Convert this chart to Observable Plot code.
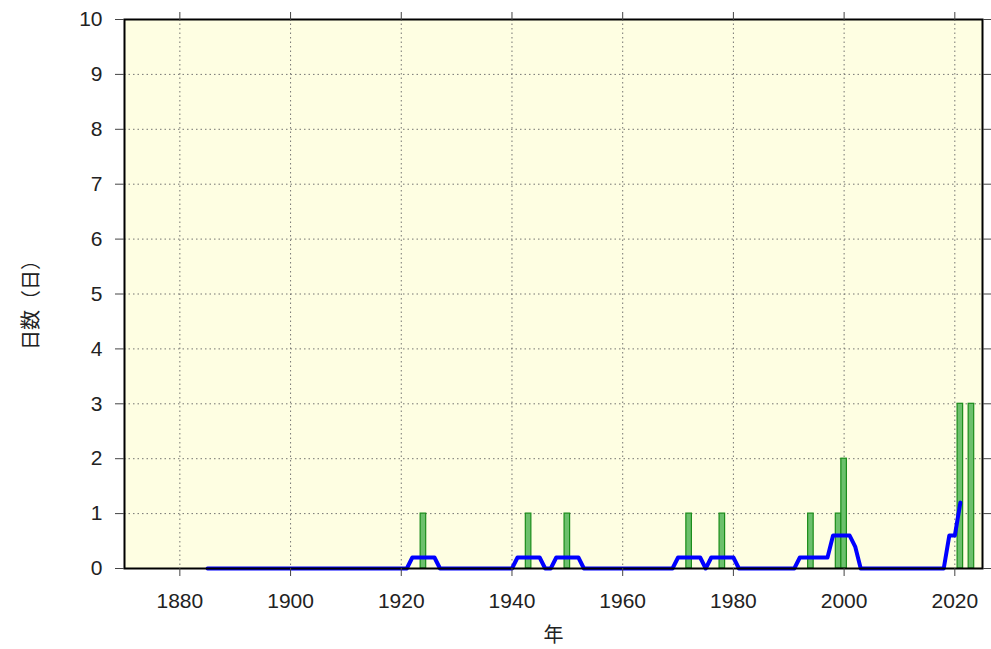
<!DOCTYPE html>
<html>
<head>
<meta charset="utf-8">
<script src="https://cdn.jsdelivr.net/npm/d3@7"></script>
<script src="https://cdn.jsdelivr.net/npm/@observablehq/plot@0.6"></script>
<style>
  html, body { margin: 0; padding: 0; background: #ffffff; }
  #chart svg { display: block; }
</style>
</head>
<body>
<div id="chart"></div>
<script>
// Yearly counts (only non-zero years are drawn as bars; record runs 1883–2023)
const barYears = [1924, 1943, 1950, 1972, 1978, 1994, 1999, 2000, 2021, 2023];
const barDays  = [1, 1, 1, 1, 1, 1, 1, 2, 3, 3];

// 5-year running mean, vertices
const meanYears  = [1885, 1921, 1922, 1926, 1927, 1940, 1941, 1945, 1946, 1947, 1948, 1952, 1953, 1969, 1970, 1974, 1975, 1976, 1980, 1981, 1991, 1992, 1997, 1998, 2001, 2002, 2003, 2018, 2019, 2020, 2021];
const meanValues = [0,    0,    0.2,  0.2,  0,    0,    0.2,  0.2,  0,    0,    0.2,  0.2,  0,    0,    0.2,  0.2,  0,    0.2,  0.2,  0,    0,    0.2,  0.2,  0.6,  0.6,  0.4,  0,    0,    0.6,  0.6,  1.2];

const xTicks = [1880, 1900, 1920, 1940, 1960, 1980, 2000, 2020];
const yTicks = [0, 1, 2, 3, 4, 5, 6, 7, 8, 9, 10];
const yLabel = "日数（日）";
const xLabel = "年";

const bars = barYears.map((y, i) => ({year: y, days: barDays[i]}));
const mean = meanYears.map((y, i) => ({year: y, v: meanValues[i]}));

const font = "'Liberation Sans', Arial, Helvetica, sans-serif";
const cjk = "'Noto Sans CJK JP', sans-serif";

const chart = Plot.plot({
  width: 991,
  height: 649,
  marginLeft: 124,
  marginRight: 9,
  marginTop: 19,
  marginBottom: 81,
  style: {fontFamily: font, fontSize: "21px", color: "#222", background: "#ffffff"},
  x: {domain: [1870, 2025]},
  y: {domain: [0, 10]},
  marks: [
    Plot.frame({fill: "#fefee2", stroke: null}),
    Plot.gridX(xTicks, {stroke: "#666", strokeOpacity: 0.9, strokeDasharray: "1.5,3", strokeWidth: 1}),
    Plot.gridY(yTicks, {stroke: "#666", strokeOpacity: 0.9, strokeDasharray: "1.5,3", strokeWidth: 1}),
    Plot.rectY(bars, {x1: d => d.year - 0.5, x2: d => d.year + 0.5, y: "days", fill: "#6cc06c", stroke: "#1a8c1a", strokeWidth: 1.2}),
    Plot.line(mean, {x: "year", y: "v", stroke: "#0000ff", strokeWidth: 4, strokeLinejoin: "round"}),
    Plot.frame({stroke: "#000", strokeWidth: 2}),
    Plot.axisX({anchor: "bottom", ticks: xTicks, tickFormat: "d", tickSize: 8, tickPadding: 17, label: null, fontSize: 21, stroke: "#444"}),
    Plot.axisX({anchor: "top", ticks: xTicks, tickFormat: () => "", tickSize: 8, label: null, stroke: "#444"}),
    Plot.axisY({anchor: "left", ticks: yTicks, tickSize: 9, tickPadding: 13, label: null, fontSize: 21, stroke: "#444"}),
    Plot.axisY({anchor: "right", ticks: yTicks, tickFormat: () => "", tickSize: 8, label: null, stroke: "#444"}),
    Plot.text([yLabel], {frameAnchor: "left", dx: -93, dy: 6, rotate: -90, textAnchor: "middle", lineAnchor: "middle", fontSize: 20, fontFamily: cjk, fill: "#222"}),
    Plot.text([xLabel], {frameAnchor: "bottom", dy: 67, textAnchor: "middle", lineAnchor: "middle", fontSize: 20, fontFamily: cjk, fill: "#222"})
  ]
});
document.getElementById("chart").appendChild(chart);
</script>
</body>
</html>
